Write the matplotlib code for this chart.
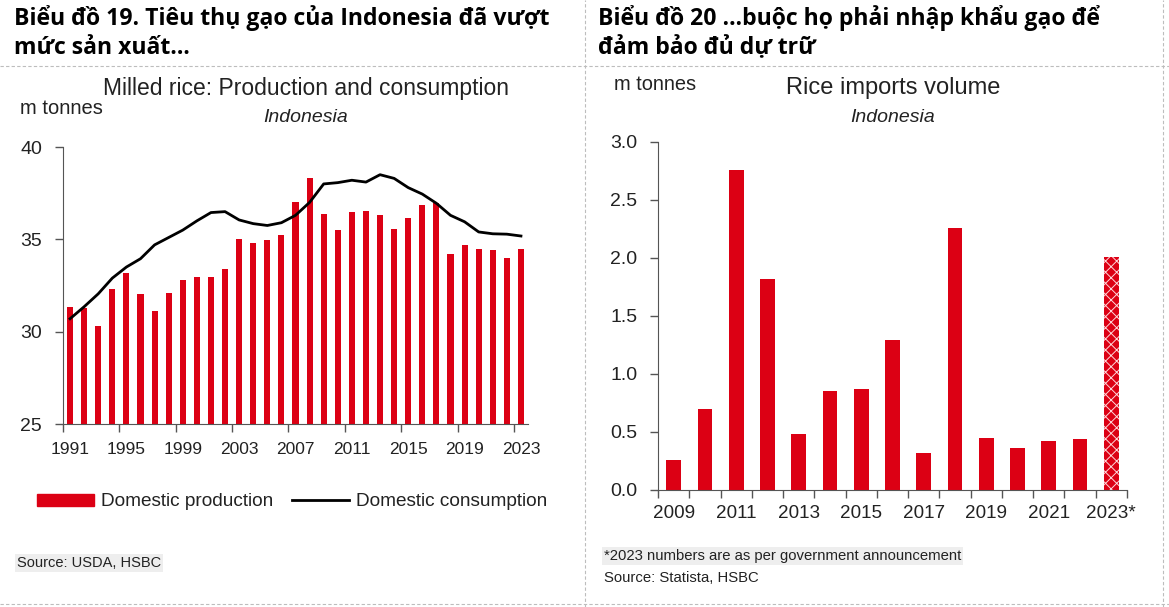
import numpy as np
import matplotlib
matplotlib.use("Agg")
import matplotlib.pyplot as plt
from matplotlib.lines import Line2D
from matplotlib.patches import Patch

# --- data: left chart (milled rice, Indonesia, m tonnes)
prod_years = np.arange(1991, 2024)
production = [31.35, 31.3, 30.3, 32.3, 33.2, 32.05, 31.1, 32.1, 32.8, 32.95,
              32.95, 33.4, 35.0, 34.8, 34.95, 35.25, 37.0, 38.3, 36.35, 35.5,
              36.5, 36.55, 36.3, 35.55, 36.15, 36.85, 36.95, 34.2, 34.7, 34.5,
              34.4, 34.0, 34.45]
consumption = [30.7, 31.35, 32.05, 32.9, 33.5, 33.95, 34.7, 35.1, 35.5, 36.0,
               36.45, 36.5, 36.05, 35.85, 35.75, 35.9, 36.3, 37.0, 38.0, 38.07,
               38.2, 38.1, 38.5, 38.3, 37.8, 37.45, 36.95, 36.3, 35.95, 35.4,
               35.3, 35.28, 35.18]
left_labels = ["1991", "1995", "1999", "2003", "2007", "2011", "2015", "2019", "2023"]

# --- data: right chart (rice imports volume, m tonnes)
imp_years = np.arange(2009, 2024)
imports = [0.26, 0.70, 2.76, 1.82, 0.48, 0.855, 0.87, 1.29, 0.32, 2.26,
           0.45, 0.36, 0.42, 0.44, 2.01]
right_labels = ["2009", "2011", "2013", "2015", "2017", "2019", "2021", "2023*"]

RED = "#dc0014"
TXT = "#222222"

plt.rcParams["font.family"] = ["Liberation Sans", "DejaVu Sans"]
plt.rcParams["hatch.linewidth"] = 0.7
HEAD = ["Open Sans", "Noto Sans", "DejaVu Sans"]

fig = plt.figure(figsize=(11.69, 6.07), dpi=100)
W, H = 1169, 607

def fx(x):
    return x / W

def fy(y):
    return 1 - y / H

# separators
for y in (66, 604):
    fig.add_artist(Line2D([0, 1], [fy(y), fy(y)], color="#bdbdbd", lw=0.8, ls=(0, (3, 2))))
for x in (585, 1163):
    fig.add_artist(Line2D([fx(x), fx(x)], [0, 1], color="#bdbdbd", lw=0.8, ls=(0, (3, 2))))

# headers
hs = 16.6
fig.text(fx(14), fy(18), "Biểu đồ 19. Tiêu thụ gạo của Indonesia đã vượt", family=HEAD,
         weight="bold", fontsize=hs, color="black", va="center")
fig.text(fx(14), fy(48), "mức sản xuất…", family=HEAD, weight="bold", fontsize=hs,
         color="black", va="center")
fig.text(fx(598), fy(18), "Biểu đồ 20 …buộc họ phải nhập khẩu gạo để", family=HEAD,
         weight="bold", fontsize=hs, color="black", va="center")
fig.text(fx(598), fy(48), "đảm bảo đủ dự trữ", family=HEAD, weight="bold", fontsize=hs,
         color="black", va="center")

# ---------------- left chart ----------------
ax1 = fig.add_axes([fx(63), fy(424), fx(528 - 63), (424 - 147) / H])
ax1.bar(prod_years, production, width=0.43, color=RED, zorder=2)
ax1.plot(prod_years, consumption, color="black", lw=2.0, zorder=3)
ax1.set_xlim(1990.5, 2023.5)
ax1.set_ylim(25, 40)
ax1.set_yticks([25, 30, 35, 40])
ax1.set_xticks(prod_years[::4] - 0.5)
ax1.set_xticklabels([])
ax1.set_xticks(prod_years[::4], left_labels, minor=True)
ax1.tick_params(axis="x", which="minor", length=0, pad=13, labelsize=12.5)
ax1.tick_params(axis="x", which="major", length=6, width=1, color="#555555")
ax1.tick_params(axis="y", length=6, width=1, color="#555555", pad=9, labelsize=14)
ax1.tick_params(axis="both", which="both", labelcolor=TXT)

fig.text(fx(306), fy(88), "Milled rice: Production and consumption", ha="center", va="center",
         fontsize=16.5, color=TXT)
fig.text(fx(20), fy(108), "m tonnes", ha="left", va="center", fontsize=14.5, color=TXT)
fig.text(fx(306), fy(118), "Indonesia", ha="center", va="center", fontsize=14,
         style="italic", color=TXT)

handles = [Patch(color=RED, label="Domestic production"),
           Line2D([], [], color="black", lw=2.0, label="Domestic consumption")]
fig.legend(handles=handles, loc="center", bbox_to_anchor=(fx(292), fy(502)), ncol=2,
           frameon=False, fontsize=13.7, handlelength=3.0, handleheight=0.63,
           handletextpad=0.37, columnspacing=0.95, labelcolor=TXT,
           borderpad=0, borderaxespad=0)

fig.text(fx(17), fy(563), "Source: USDA, HSBC", ha="left", va="center", fontsize=10.5,
         color=TXT, bbox=dict(facecolor="#eeeeee", edgecolor="none", pad=1.5))

# ---------------- right chart ----------------
ax2 = fig.add_axes([fx(658), fy(490), fx(1127 - 658), (490 - 142) / H])
bars = ax2.bar(imp_years, imports, width=0.47, color=RED, zorder=2)
# 2023 is an announced figure: hatched bar
bars[-1].set_hatch("xxx")
bars[-1].set_edgecolor("#ffd6da")
bars[-1].set_linewidth(0)
ax2.set_xlim(2008.5, 2023.5)
ax2.set_ylim(0, 3.0)
ax2.set_yticks(np.arange(0, 3.01, 0.5))
ax2.set_yticklabels([f"{v:.1f}" for v in np.arange(0, 3.01, 0.5)])
ax2.set_xticks(np.arange(2008.5, 2024, 1.0))
ax2.set_xticklabels([])
ax2.set_xticks(imp_years[::2], right_labels, minor=True)
ax2.tick_params(axis="x", which="minor", length=0, pad=11, labelsize=13.6)
ax2.tick_params(axis="x", which="major", length=6, width=1, color="#555555")
ax2.tick_params(axis="y", length=6, width=1, color="#555555", pad=9, labelsize=14)
ax2.tick_params(axis="both", which="both", labelcolor=TXT)

fig.text(fx(893), fy(88), "Rice imports volume", ha="center", va="center", fontsize=17,
         color=TXT)
fig.text(fx(614), fy(85), "m tonnes", ha="left", va="center", fontsize=14.4, color=TXT)
fig.text(fx(893), fy(118), "Indonesia", ha="center", va="center", fontsize=14,
         style="italic", color=TXT)
fig.text(fx(604), fy(556), "*2023 numbers are as per government announcement", ha="left",
         va="center", fontsize=10.7, color=TXT,
         bbox=dict(facecolor="#eeeeee", edgecolor="none", pad=1.5))
fig.text(fx(604), fy(578), "Source: Statista, HSBC", ha="left", va="center", fontsize=10.7,
         color=TXT)

for ax in (ax1, ax2):
    ax.spines["top"].set_visible(False)
    ax.spines["right"].set_visible(False)
    ax.spines["left"].set_color("#555555")
    ax.spines["bottom"].set_color("#555555")
    ax.set_facecolor("white")

fig.savefig("out.png", dpi=100)
